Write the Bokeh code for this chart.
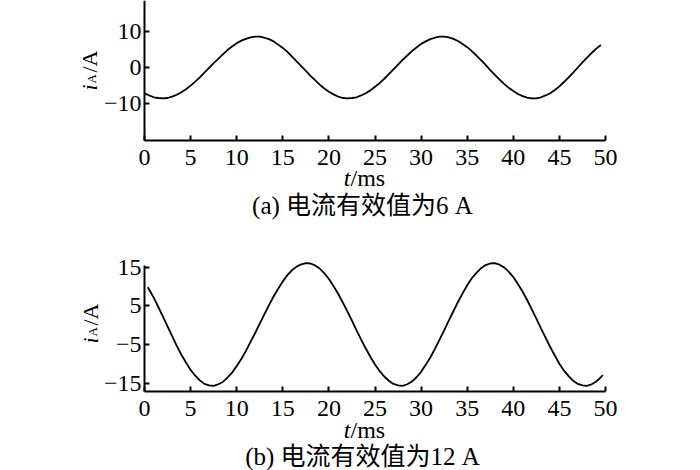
from bokeh.plotting import figure
from bokeh.layouts import column
from bokeh.models import Range1d, FixedTicker, Label
from bokeh.embed import file_html
from bokeh.resources import INLINE

# ---- data ----
t_a = [k / 2 for k in range(0, 100)]          # 0 .. 49.5 ms
i_a = [-7.1, -7.7, -8.2, -8.4, -8.5, -8.4, -8.0, -7.5, -6.8, -6.0,
       -5.0, -3.9, -2.7, -1.4, -0.1, 1.2, 2.4, 3.6, 4.8, 5.8,
       6.7, 7.4, 7.9, 8.3, 8.5, 8.5, 8.2, 7.8, 7.2, 6.3,
       5.4, 4.3, 3.0, 1.7, 0.4, -0.9, -2.3, -3.5, -4.7, -5.8,
       -6.7, -7.4, -8.0, -8.4, -8.5, -8.4, -8.2, -7.7, -7.1, -6.3,
       -5.3, -4.3, -3.1, -1.8, -0.5, 0.8, 2.1, 3.3, 4.5, 5.5,
       6.5, 7.2, 7.8, 8.2, 8.5, 8.5, 8.3, 7.9, 7.3, 6.5,
       5.6, 4.5, 3.3, 2.0, 0.7, -0.7, -2.0, -3.3, -4.5, -5.6,
       -6.5, -7.3, -7.9, -8.3, -8.5, -8.5, -8.2, -7.7, -7.1, -6.2,
       -5.2, -4.0, -2.7, -1.4, 0.0, 1.4, 2.7, 4.0, 5.2, 6.2]

t_b = [0.35] + [k / 2 for k in range(1, 100)] + [49.7]   # 0.35 .. 49.7 ms
i_b = [9.8,
       9.2, 7.1, 4.7, 2.2, -0.3, -2.8, -5.3, -7.6, -9.6, -11.5,
       -13.0, -14.2, -15.1, -15.5, -15.6, -15.2, -14.6, -13.5, -12.2, -10.5,
       -8.7, -6.6, -4.3, -2.0, 0.4, 2.8, 5.2, 7.4, 9.4, 11.3,
       12.9, 14.2, 15.1, 15.7, 16.0, 15.9, 15.4, 14.6, 13.4, 11.9,
       10.1, 8.1, 5.9, 3.6, 1.2, -1.3, -3.7, -6.0, -8.1, -10.1,
       -11.8, -13.2, -14.3, -15.1, -15.5, -15.6, -15.2, -14.5, -13.4, -12.0,
       -10.2, -8.3, -6.1, -3.7, -1.3, 1.2, 3.6, 6.0, 8.2, 10.3,
       12.1, 13.5, 14.7, 15.5, 15.9, 16.0, 15.6, 14.9, 13.8, 12.4,
       10.6, 8.7, 6.5, 4.1, 1.7, -0.8, -3.2, -5.6, -7.8, -9.9,
       -11.7, -13.1, -14.3, -15.1, -15.5, -15.6, -15.2, -14.5, -13.4,
       -12.8]

if len(t_a) != len(i_a) or len(t_b) != len(i_b):
    raise SystemExit("length mismatch %d %d %d %d" % (len(t_a), len(i_a), len(t_b), len(i_b)))

x_ticks = [0, 5, 10, 15, 20, 25, 30, 35, 40, 45, 50]
y_ticks_a = [-10, 0, 10]
y_ticks_b = [-15, -5, 5, 15]
y_labels_a = {-10: "\u221210", 0: "0", 10: "10"}
y_labels_b = {-15: "\u221215", -5: "\u22125", 5: "5", 15: "15"}
x_title_var = "t"
x_title_unit = "/ms"
y_title_var = "i"
y_title_sub = "A"
y_title_unit = "/A"
caption_a = "(a) 电流有效值为6 A"
caption_b = "(b) 电流有效值为12 A"

SERIF = "'Liberation Serif', 'Noto Sans CJK SC'"
W = 700
PX_X = 461 / 50.0       # pixels per ms
X0 = 144                # pixel of t = 0


def make_panel(ts, vs, height, zero_px, s, x_axis_val, y_axis_top, yticks, ylabels,
               caption, xl_base, cap_base, yl_x_px, yl_start_px):
    """zero_px: pixel row of value 0 inside this canvas, s: px per unit."""
    def vy(px):
        return (zero_px - px) / s

    def vx(px):
        return (px - X0) / PX_X

    p = figure(width=W, height=height, title=None,
               x_range=Range1d(vx(0), vx(W)), y_range=Range1d(vy(height), vy(0)),
               output_backend="svg", toolbar_location=None,
               min_border=0, min_border_left=0, min_border_right=0,
               min_border_top=0, min_border_bottom=0)
    p.outline_line_color = None
    p.grid.visible = False
    p.background_fill_color = "white"
    p.border_fill_color = "white"

    p.xaxis.ticker = FixedTicker(ticks=x_ticks)
    p.yaxis.ticker = FixedTicker(ticks=yticks)
    p.yaxis.major_label_overrides = ylabels
    p.xaxis.fixed_location = x_axis_val
    p.xaxis.bounds = (0, 50)
    p.yaxis.fixed_location = 0
    p.yaxis.bounds = (x_axis_val, y_axis_top)
    for ax in (p.xaxis, p.yaxis):
        ax.axis_line_width = 2
        ax.axis_line_color = "black"
        ax.major_tick_line_width = 2
        ax.major_tick_line_color = "black"
        ax.major_tick_in = 5
        ax.major_tick_out = 0
        ax.minor_tick_in = 0
        ax.minor_tick_out = 0
        ax.minor_tick_line_color = None
        ax.major_label_text_font = "Liberation Serif"
        ax.major_label_text_font_size = "24px"
        ax.major_label_text_color = "black"
    p.xaxis.major_label_standoff = 10
    p.yaxis.major_label_standoff = 3

    p.line(ts, vs, line_color="black", line_width=1.8)

    # x-axis title: italic t + /ms
    p.add_layout(Label(x=vx(350), y=vy(xl_base), text=x_title_var, text_font=SERIF,
                       text_font_size="24px", text_font_style="italic",
                       text_align="right", text_baseline="alphabetic",
                       text_color="black"))
    p.add_layout(Label(x=vx(350), y=vy(xl_base), text=x_title_unit, text_font=SERIF,
                       text_font_size="24px", text_align="left",
                       text_baseline="alphabetic", text_color="black"))
    # caption
    p.add_layout(Label(x=vx(362), y=vy(cap_base), text=caption, text_font=SERIF,
                       text_font_size="25px", text_align="center",
                       text_baseline="alphabetic", text_color="black"))
    # y-axis title (rotated, reads upwards): italic i, subscript A, /A
    ang = 1.5707963
    p.add_layout(Label(x=vx(yl_x_px), y=vy(yl_start_px), text=y_title_var,
                       text_font=SERIF, text_font_size="22px", text_font_style="italic",
                       angle=ang, text_align="left", text_baseline="alphabetic",
                       text_color="black"))
    p.add_layout(Label(x=vx(yl_x_px + 2), y=vy(yl_start_px - 7), text=y_title_sub,
                       text_font=SERIF, text_font_size="13px",
                       angle=ang, text_align="left", text_baseline="alphabetic",
                       text_color="black"))
    p.add_layout(Label(x=vx(yl_x_px), y=vy(yl_start_px - 18), text=y_title_unit,
                       text_font=SERIF, text_font_size="22px",
                       angle=ang, text_align="left", text_baseline="alphabetic",
                       text_color="black"))
    return p


# top panel: canvas rows 0..235; value 0 at row 67; 3.63 px per A; x axis at -20.1
s1 = 3.63
p1 = make_panel(t_a, i_a, 235, 67, s1, -20.1, 67 / s1, y_ticks_a, y_labels_a, caption_a,
                xl_base=177, cap_base=205, yl_x_px=89, yl_start_px=90)

# bottom panel: canvas rows 235..470 (local 0..235); value 0 at local row 89.75; 3.883 px per A
s2 = 3.883
p2 = make_panel(t_b, i_b, 235, 89.75, s2, -17.06, 15.3, y_ticks_b, y_labels_b, caption_b,
                xl_base=429 - 235, cap_base=456 - 235, yl_x_px=90, yl_start_px=343 - 235)

layout = column(p1, p2, spacing=0)
open("out.html", "w").write(file_html(layout, INLINE))
